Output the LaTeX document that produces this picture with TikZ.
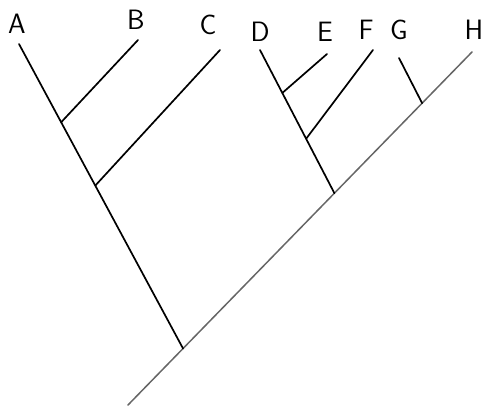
\documentclass[tikz,border=0pt]{standalone}
\usepackage{tikz}
\usetikzlibrary{calc}

\begin{document}
\begin{tikzpicture}[x=1pt,y=-1pt,
    taxon/.style={font=\sffamily\fontsize{28}{28}\selectfont, inner sep=0pt},
    branch/.style={line width=1.7pt, line cap=round},
    stem/.style={line width=1.5pt, line cap=round, black!60}]
    \useasboundingbox (0,0) rectangle (485,411);

    % taxa
    \node[taxon] (a) at (17,24) {A};
    \node[taxon] (b) at (136,20) {B};
    \node[taxon] (c) at (208,25) {C};
    \node[taxon] (d) at (260,32) {D};
    \node[taxon] (e) at (325,32) {E};
    \node[taxon] (f) at (366,30) {F};
    \node[taxon] (g) at (399,30) {G};
    \node[taxon] (h) at (474,30) {H};

    % branch tips
    \coordinate (atip) at (19,44);
    \coordinate (btip) at (138,40);
    \coordinate (ctip) at (220,50);
    \coordinate (dtip) at (260,50);
    \coordinate (etip) at (327,54);
    \coordinate (ftip) at (373,50);
    \coordinate (gtip) at (399,58);
    \coordinate (htip) at (472,52);

    % main stem and nodes on it
    \coordinate (root) at (128,405);
    \coordinate (n1) at ($(root)!0.16!(htip)$);
    \coordinate (n4) at ($(root)!0.6!(htip)$);
    \coordinate (n7) at ($(root)!0.855!(htip)$);
    \coordinate (n2) at ($(atip)!0.257!(n1)$);
    \coordinate (n3) at ($(atip)!0.465!(n1)$);
    \coordinate (n5) at ($(dtip)!0.3!(n4)$);
    \coordinate (n6) at ($(dtip)!0.62!(n4)$);

    \draw[stem] (root) -- (htip);
    \draw[branch] (atip) -- (n1);
    \draw[branch] (btip) -- (n2);
    \draw[branch] (ctip) -- (n3);
    \draw[branch] (dtip) -- (n4);
    \draw[branch] (etip) -- (n5);
    \draw[branch] (ftip) -- (n6);
    \draw[branch] (gtip) -- (n7);
\end{tikzpicture}
\end{document}
